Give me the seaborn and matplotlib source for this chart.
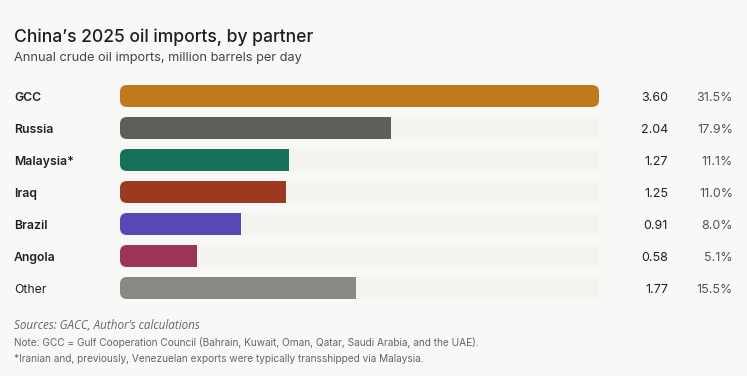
import matplotlib
matplotlib.use("Agg")
import matplotlib.pyplot as plt
import matplotlib.transforms as mtransforms
from matplotlib.patches import FancyBboxPatch
import seaborn as sns
import pandas as pd

# ---- data ----
partners = ["GCC", "Russia", "Malaysia*", "Iraq", "Brazil", "Angola", "Other"]
values = [3.60, 2.04, 1.27, 1.25, 0.91, 0.58, 1.77]
shares = ["31.5%", "17.9%", "11.1%", "11.0%", "8.0%", "5.1%", "15.5%"]
bold_labels = [True, True, True, True, True, True, False]
bar_colors = ["#c07a1e", "#5f5e5a", "#17705a", "#9b3a1f", "#5549b8", "#9c3455", "#8a8984"]

title = "China\u2019s 2025 oil imports, by partner"
subtitle = "Annual crude oil imports, million barrels per day"
source = "Sources: GACC, Author\u2019s calculations"
note1 = "Note: GCC = Gulf Cooperation Council (Bahrain, Kuwait, Oman, Qatar, Saudi Arabia, and the UAE)."
note2 = "*Iranian and, previously, Venezuelan exports were typically transshipped via Malaysia."

BG = "#f8f8f6"
TRACK = "#f3f3ef"
FONT = ["Inter", "DejaVu Sans"]

sns.set_theme(style="white")
plt.rcParams["font.family"] = FONT

W, H = 747, 376
fig = plt.figure(figsize=(W / 100, H / 100), dpi=100, facecolor=BG)
ax = fig.add_axes([120 / W, 1 - 304 / H, 479 / W, 224 / H])
ax.set_facecolor(BG)

vmax = max(values)
df = pd.DataFrame({"partner": partners, "value": values, "track": [vmax] * len(values)})
bw = 22 / 32

sns.barplot(data=df, y="partner", x="track", color=TRACK, width=bw, ax=ax,
            orient="h", linewidth=0, saturation=1)
n = len(ax.patches)
sns.barplot(data=df, y="partner", x="value", hue="partner", palette=bar_colors,
            width=bw, ax=ax, orient="h", legend=False, linewidth=0, saturation=1)

ax.set_xlim(0, vmax)
ax.set_ylim(len(partners) - 0.5, -0.5)
for s in ax.spines.values():
    s.set_visible(False)
ax.set_xticks([])
ax.set_yticks([])
ax.set_xlabel("")
ax.set_ylabel("")

# rounded tracks; colored bars clipped to them
ax_w_px = 479
ax_h_px = 224
px_x = ax_w_px / vmax
px_y = ax_h_px / len(partners)
aspect = px_x / px_y
r_px = 7
tracks = ax.patches[:n]
bars = ax.patches[n:]
for tp, bp in zip(tracks, bars):
    x, y, w, h = tp.get_x(), tp.get_y(), tp.get_width(), tp.get_height()
    fb = FancyBboxPatch((x, y), w, h,
                        boxstyle=f"round,pad=0,rounding_size={r_px / px_x}",
                        mutation_aspect=aspect, fc=TRACK, ec="none", zorder=1)
    ax.add_patch(fb)
    tp.set_visible(False)
    bp.set_zorder(2)
    bp.set_edgecolor("none")
    bp.set_clip_path(fb)

trans = mtransforms.blended_transform_factory(fig.transFigure, ax.transData)
# baseline offset so that cap height is centred on the bar
trans_b = mtransforms.offset_copy(trans, fig=fig, y=-3.7, units="points")
for i, (lab, v, sh, b) in enumerate(zip(partners, values, shares, bold_labels)):
    fig.text(14 / W, i, lab, transform=trans_b, ha="left", va="baseline",
             fontsize=8.8, fontweight="semibold" if b else "normal", color="#222222")
    fig.text(668 / W, i, f"{v:.2f}", transform=trans_b, ha="right", va="baseline",
             fontsize=9, color="#222222")
    fig.text(733 / W, i, sh, transform=trans_b, ha="right", va="baseline",
             fontsize=9, color="#555555")

fig.text(14 / W, 1 - 42 / H, title, ha="left", va="baseline", fontsize=12.6,
         fontweight="medium", color="#1f1f1f")
fig.text(14 / W, 1 - 61 / H, subtitle, ha="left", va="baseline", fontsize=9.2,
         color="#444444")
fig.text(14 / W, 1 - 329 / H, source, ha="left", va="baseline", fontsize=8.4,
         style="italic", color="#666666", family=["Open Sans", "DejaVu Sans"])
fig.text(14 / W, 1 - 346 / H, note1, ha="left", va="baseline", fontsize=7.25, color="#666666")
fig.text(14 / W, 1 - 362 / H, note2, ha="left", va="baseline", fontsize=7.25, color="#666666")

fig.savefig("out.png", dpi=100, facecolor=BG)
